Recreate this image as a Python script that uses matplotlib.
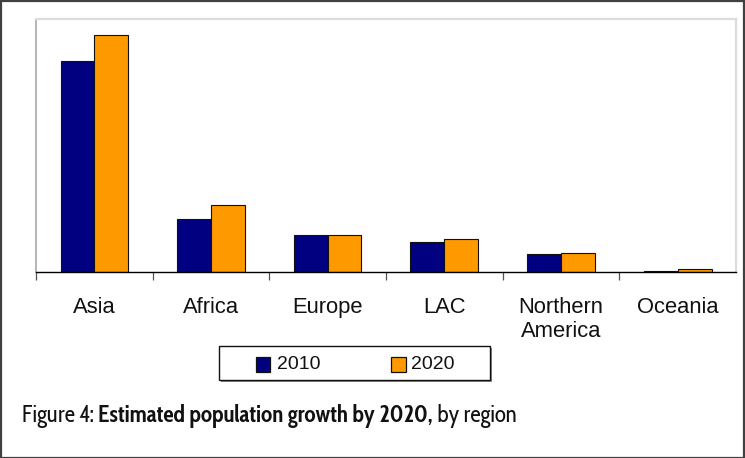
import matplotlib
matplotlib.use("Agg")
import matplotlib.pyplot as plt
from matplotlib.patches import Rectangle

regions = ["Asia", "Africa", "Europe", "LAC", "Northern\nAmerica", "Oceania"]
years = ["2010", "2020"]
pop_2010 = [4170, 1050, 730, 590, 355, 25]   # millions
pop_2020 = [4680, 1320, 730, 650, 375, 55]   # millions
colors = ["#000080", "#FF9900"]

W, H = 745, 458
fig = plt.figure(figsize=(W / 100, H / 100), dpi=100)

def fx(px):
    return px / W

def fy(py):
    return 1 - py / H

ax = fig.add_axes([fx(36), fy(272), fx(736) - fx(36), fy(19) - fy(272)])

xs = list(range(len(regions)))
bw = 0.29
ax.bar([x - bw / 2 for x in xs], pop_2010, bw, color=colors[0],
       edgecolor="#111111", linewidth=0.8, zorder=3)
ax.bar([x + bw / 2 for x in xs], pop_2020, bw, color=colors[1],
       edgecolor="#111111", linewidth=0.8, zorder=3)

ax.set_xlim(-0.5, len(regions) - 0.5)
ax.set_ylim(0, 5000)
ax.set_yticks([])

label_font = ["Liberation Sans", "DejaVu Sans"]
ax.set_xticks(xs)
ax.set_xticklabels(regions, fontsize=15.8, family=label_font,
                   multialignment="center", color="#111111")
ax.tick_params(axis="x", which="major", length=0, pad=18.2)
ax.set_xticks([x - 0.5 for x in xs], minor=True)
ax.tick_params(axis="x", which="minor", length=5.8, width=0.9,
               color="#555555", direction="out")

ax.spines["bottom"].set_color("#000000")
ax.spines["bottom"].set_linewidth(1.0)
ax.spines["bottom"].set_zorder(4)
ax.spines["left"].set_color("#a8a8a8")
ax.spines["left"].set_linewidth(1.2)
for s in ("top", "right"):
    ax.spines[s].set_color("#dcdcdc")
    ax.spines[s].set_linewidth(1.6)

# legend box drawn in figure pixels
def fig_rect(x0, y0, x1, y1, **kw):
    r = Rectangle((fx(x0), fy(y1)), fx(x1) - fx(x0), fy(y0) - fy(y1),
                  transform=fig.transFigure, **kw)
    fig.patches.append(r)

fig_rect(221, 348, 491.5, 381.5, facecolor="#8a8a8a", edgecolor="none")
fig_rect(219.5, 346, 489.5, 379.5, facecolor="white", edgecolor="#111111",
         linewidth=1.0)
entries = [(255.7, 276.5), (391, 411.5)]
for (sx, tx), c, yr in zip(entries, colors, years):
    fig_rect(sx, 357, sx + 14.5, 371.5, facecolor=c, edgecolor="#111111",
             linewidth=0.9)
    fig.text(fx(tx), fy(364.5), yr, fontsize=14, family=label_font,
             va="center", ha="left", color="#111111")

# caption with mixed weights, sized to span the caption width
cap_font = ["Cabin Condensed", "Open Sans", "DejaVu Sans"]
pieces = [("Figure 4: ", "normal"),
          ("Estimated population growth by 2020,", "bold"),
          (" by region", "normal")]
cap_left, cap_right, cap_base = 22.0, 517.0, 422.0
fig.canvas.draw()
renderer = fig.canvas.get_renderer()

def place_caption(size):
    x = cap_left
    made = []
    for txt, wt in pieces:
        t = fig.text(fx(x), fy(cap_base), txt, fontsize=size, family=cap_font,
                     fontweight=wt, fontstretch="condensed", va="baseline",
                     ha="left", color="#111111")
        x += t.get_window_extent(renderer).width
        made.append(t)
    return made, x - cap_left

trial, width = place_caption(15.0)
for t in trial:
    t.remove()
size = 15.0 * (cap_right - cap_left) / width
place_caption(size)

# outer frame
fig.patches.append(Rectangle((0.001, 0.001), 0.998, 0.997,
                             transform=fig.transFigure, facecolor="none",
                             edgecolor="#404040", linewidth=1.6))

fig.savefig("out.png", dpi=100)
